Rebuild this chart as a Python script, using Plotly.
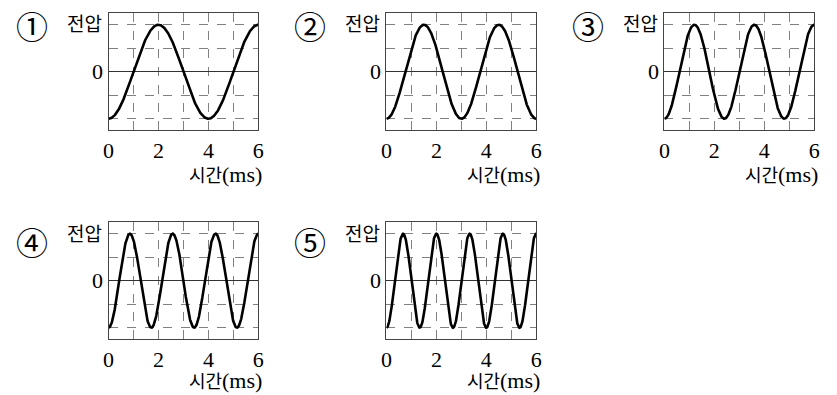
import numpy as np
import plotly.graph_objects as go

# ---- data ----
panel_labels = ["①", "②", "③", "④", "⑤"]
cycles_in_window = [1.5, 2.0, 2.5, 3.5, 4.5]   # full cycles shown between 0 and 6 ms
t_max_ms = 6
x_tick_labels = ["0", "", "2", "", "4", "", "6"]
x_tick_vals = [0, 1, 2, 3, 4, 5, 6]
y_tick_vals = [-1, -0.5, 0, 0.5, 1]
y_tick_labels = ["", "", "0", "", ""]
y_axis_title = "전압"
x_axis_title_ko = "시간"
x_axis_unit = "(ms)"

# ---- layout (pixels) ----
W, H = 837, 395
boxes = [  # left, right, top, bottom
    (104, 256, 13, 130),
    (386, 538, 13, 130),
    (668, 820, 13, 130),
    (104, 256, 222, 339),
    (386, 538, 222, 339),
]
circle_dy = [12, 12, 12, 19, 19]
xlabel_dy = [44, 44, 44, 41, 41]

SERIF = "Liberation Serif"
KO = "Noto Sans CJK KR"
fig = go.Figure()
t = np.linspace(0, t_max_ms, 600)
annotations = []
for i, (lab, cyc) in enumerate(zip(panel_labels, cycles_in_window)):
    l, r, tp, b = boxes[i]
    ax = "" if i == 0 else str(i + 1)
    y = -np.cos(2 * np.pi * cyc * t / t_max_ms)
    fig.add_trace(go.Scatter(x=t, y=y, mode="lines", xaxis="x" + ax, yaxis="y" + ax,
                             line=dict(color="black", width=2.6), showlegend=False,
                             hoverinfo="skip"))
    fig.layout["xaxis" + ax] = dict(
        domain=[l / W, r / W], anchor="y" + ax, range=[0, t_max_ms],
        tickvals=x_tick_vals, ticktext=x_tick_labels, ticks="",
        showgrid=True, gridcolor="#808080", griddash="dash", gridwidth=1,
        showline=True, mirror=True, linecolor="#444", linewidth=1.2,
        zeroline=False, tickfont=dict(family=SERIF, size=22, color="black"),
        fixedrange=True)
    fig.layout["yaxis" + ax] = dict(
        domain=[1 - b / H, 1 - tp / H], anchor="x" + ax, range=[-1.24, 1.25],
        tickvals=y_tick_vals, ticktext=y_tick_labels, ticks="",
        showgrid=True, gridcolor="#808080", griddash="dash", gridwidth=1,
        showline=True, mirror=True, linecolor="#444", linewidth=1.2,
        zeroline=True, zerolinecolor="#333", zerolinewidth=1.2,
        tickfont=dict(family=SERIF, size=22, color="black"), fixedrange=True)
    annotations.append(dict(text=y_axis_title, xref="paper", yref="paper",
                            x=(l - 6) / W, y=1 - (tp + 10) / H, xanchor="right",
                            yanchor="middle", showarrow=False, borderpad=0,
                            font=dict(family=KO, size=19, color="black")))
    annotations.append(dict(text=x_axis_unit, xref="paper", yref="paper",
                            x=(r + 5) / W, y=1 - (b + xlabel_dy[i]) / H, xanchor="right",
                            yanchor="middle", showarrow=False, borderpad=0,
                            font=dict(family=SERIF, size=22, color="black")))
    annotations.append(dict(text=x_axis_title_ko, xref="paper", yref="paper",
                            x=(r - 36) / W, y=1 - (b + xlabel_dy[i]) / H, xanchor="right",
                            yanchor="middle", showarrow=False, borderpad=0,
                            font=dict(family=KO, size=18, color="black")))
    annotations.append(dict(text=lab, xref="paper", yref="paper",
                            x=(l - 78) / W, y=1 - (tp + circle_dy[i]) / H,
                            xanchor="center", yanchor="middle", showarrow=False,
                            borderpad=0,
                            font=dict(family=KO, size=32, color="black")))

fig.update_layout(width=W, height=H, margin=dict(l=0, r=0, t=0, b=0),
                  paper_bgcolor="white", plot_bgcolor="white",
                  annotations=annotations)
fig.write_html("out.html", config={"displayModeBar": False},
               post_script="document.body.style.margin='0';document.body.style.overflow='hidden';")
